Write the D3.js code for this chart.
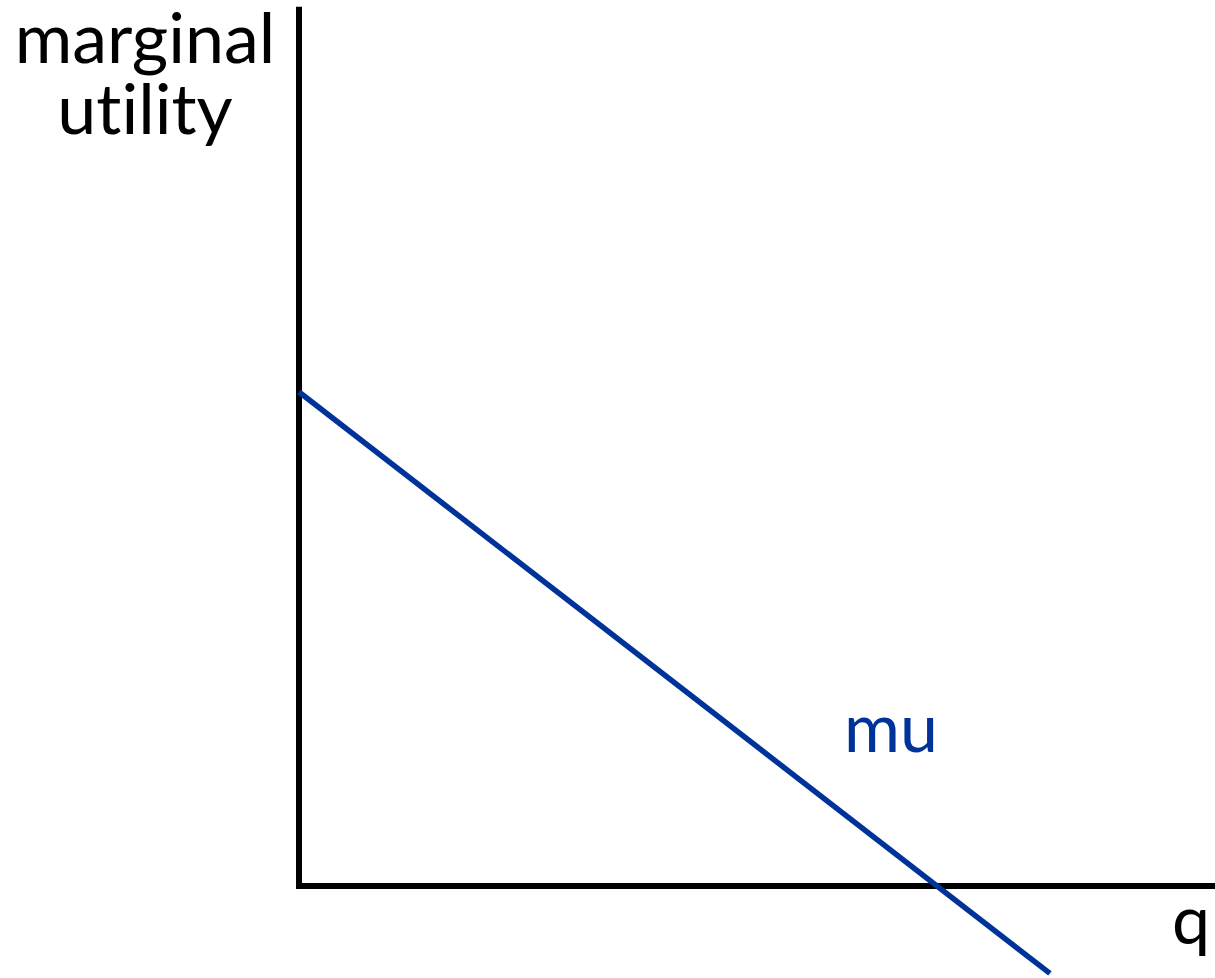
<!DOCTYPE html>
<html>
<head>
<meta charset="utf-8">
<script src="https://cdn.jsdelivr.net/npm/d3@7"></script>
<style>
  body { margin: 0; background: #fff; }
  text { font-family: Lato, "Open Sans", sans-serif; font-variant-ligatures: none; }
</style>
</head>
<body>
<div class="chart"></div>
<script>
// marginal utility line: mu = 10 - q
let qVals = [0, 11.77]
let muVals = [10, -1.77]
let axisLabels = ['marginal', 'utility']
let curveLabel = 'mu'
let xLabel = 'q'

let width = 1215
let height = 978

let xScale = d3.scaleLinear()
                .domain([0, 10])
                .range([299, 937])

let yScale = d3.scaleLinear()
                .domain([0, 10])
                .range([886, 392])

let svg = d3.select('.chart')
            .append('svg')
            .attr('width', width)
            .attr('height', height)

// axes drawn as plain lines, no ticks
svg.append('line')
   .attr('x1', xScale(0)).attr('y1', yScale(0) + 3)
   .attr('x2', xScale(0)).attr('y2', yScale(17.8))
   .attr('stroke', 'black')
   .attr('stroke-width', 6)

svg.append('line')
   .attr('x1', xScale(0) - 3).attr('y1', yScale(0))
   .attr('x2', xScale(14.4)).attr('y2', yScale(0))
   .attr('stroke', 'black')
   .attr('stroke-width', 6)

let line = d3.line()
             .x((d, i) => xScale(qVals[i]))
             .y((d) => yScale(d))

svg.append('path')
   .datum(muVals)
   .attr('d', line)
   .attr('fill', 'none')
   .attr('stroke', '#003399')
   .attr('stroke-width', 5.5)

axisLabels.forEach((item, i) => {
    svg.append('text')
       .attr('x', 145)
       .attr('y', 63 + i * 71)
       .attr('text-anchor', 'middle')
       .attr('font-size', 70)
       .attr('fill', 'black')
       .text(item)
})

svg.append('text')
   .attr('x', 891)
   .attr('y', 752)
   .attr('text-anchor', 'middle')
   .attr('font-size', 68)
   .attr('fill', '#003399')
   .text(curveLabel)

svg.append('text')
   .attr('x', 1191)
   .attr('y', 944)
   .attr('text-anchor', 'middle')
   .attr('font-size', 68)
   .attr('fill', 'black')
   .text(xLabel)
</script>
</body>
</html>
